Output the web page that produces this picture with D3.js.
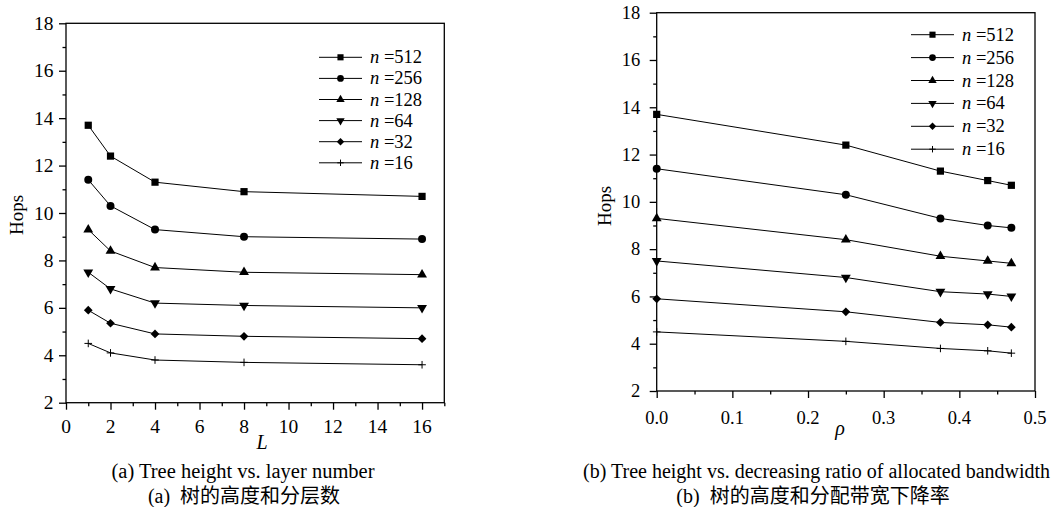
<!DOCTYPE html>
<html>
<head>
<meta charset="utf-8">
<script src="https://cdn.jsdelivr.net/npm/d3@7"></script>
<style>
  body { margin: 0; background: #fff; }
  svg { display: block; font-family: "Liberation Serif", "Noto Sans CJK SC", serif; }
  svg text { font-family: "Liberation Serif", "Noto Sans CJK SC", serif; }
</style>
</head>
<body>
<svg id="chart" width="1057" height="507"></svg>
<script>
// series labels (n) and values, same hops for both panels
const nLabels = ['512', '256', '128', '64', '32', '16'];
const layerL = [1, 2, 4, 8, 16];
const rhoVals = [0, 0.25, 0.375, 0.4375, 0.46875];

const hops512 = [13.7, 12.4, 11.3, 10.9, 10.7];
const hops256 = [11.4, 10.3, 9.3, 9.0, 8.9];
const hops128 = [9.3, 8.4, 7.7, 7.5, 7.4];
const hops64 = [7.5, 6.8, 6.2, 6.1, 6.0];
const hops32 = [5.9, 5.35, 4.9, 4.8, 4.7];
const hops16 = [4.5, 4.1, 3.8, 3.7, 3.6];
const hopsSeries = [hops512, hops256, hops128, hops64, hops32, hops16];

const yTicks = [2, 4, 6, 8, 10, 12, 14, 16, 18];
const yMinor = [3, 5, 7, 9, 11, 13, 15, 17];
const lTicks = [0, 2, 4, 6, 8, 10, 12, 14, 16];
const lMinor = [1, 3, 5, 7, 9, 11, 13, 15, 17];
const rhoTicks = [0, 0.1, 0.2, 0.3, 0.4, 0.5];
const rhoMinor = [0.05, 0.15, 0.25, 0.35, 0.45];

const captionA = ['(a) Tree height vs. layer number', '(a)  树的高度和分层数'];
const captionB = ['(b) Tree height vs. decreasing ratio of allocated bandwidth', '(b)  树的高度和分配带宽下降率'];

const svg = d3.select('#chart');
svg.append('rect').attr('width', 1057).attr('height', 507).attr('fill', '#fff');

const markerKinds = ['square', 'circle', 'up', 'down', 'diamond', 'plus'];

function marker(g, kind, x, y, s) {
    s = s || 1;
    if (kind === 'plus') {
        const r = 3.8 * s;
        g.append('path')
            .attr('d', `M${x - r},${y}H${x + r}M${x},${y - r}V${y + r}`)
            .attr('stroke', '#000').attr('stroke-width', 1).attr('fill', 'none');
        return;
    }
    let sym, size, rot = 0;
    if (kind === 'square') { sym = d3.symbolSquare; size = 52; }
    if (kind === 'circle') { sym = d3.symbolCircle; size = 50; }
    if (kind === 'up') { sym = d3.symbolTriangle; size = 42; }
    if (kind === 'down') { sym = d3.symbolTriangle; size = 42; rot = 180; }
    if (kind === 'diamond') { sym = d3.symbolSquare; size = 38; rot = 45; }
    g.append('path')
        .attr('d', d3.symbol(sym, size * s * s)())
        .attr('transform', `translate(${x},${y}) rotate(${rot})`)
        .attr('fill', '#000');
}

// tick marks only, labels drawn separately
function ticks(g, axis, tf, size) {
    const a = g.append('g').attr('transform', tf)
        .call(axis.tickSize(size).tickSizeOuter(0).tickFormat(''));
    a.select('.domain').remove();
    a.selectAll('line').attr('stroke-width', 1.3);
}

function drawPanel(p) {
    const x = d3.scaleLinear().domain(p.xDomain).range(p.xRange);
    const y = d3.scaleLinear().domain([2, 18]).range(p.yRange);
    const g = svg.append('g');

    const bottom = `translate(0,${p.yRange[0]})`;
    const left = `translate(${p.xRange[0]},0)`;
    ticks(g, d3.axisBottom(x).tickValues(p.xTicks), bottom, 7);
    ticks(g, d3.axisBottom(x).tickValues(p.xMinor), bottom, 3.5);
    ticks(g, d3.axisLeft(y).tickValues(yTicks), left, 7);
    ticks(g, d3.axisLeft(y).tickValues(yMinor), left, 3.5);

    g.append('g').selectAll('text').data(p.xTicks).join('text')
        .attr('x', d => x(d)).attr('y', p.yRange[0] + p.xLabelOff)
        .attr('text-anchor', 'middle').attr('font-size', p.fs)
        .text(p.xFormat);
    g.append('g').selectAll('text').data(yTicks).join('text')
        .attr('x', p.xRange[0] - p.yPad).attr('y', d => y(d)).attr('dy', '0.34em')
        .attr('text-anchor', 'end').attr('font-size', p.fs)
        .text(d => d);

    // frame
    g.append('rect')
        .attr('x', p.xRange[0]).attr('y', p.yRange[1])
        .attr('width', p.xRange[1] - p.xRange[0]).attr('height', p.yRange[0] - p.yRange[1])
        .attr('fill', 'none').attr('stroke', '#000').attr('stroke-width', 1.3);

    // axis titles
    g.append('text')
        .attr('transform', `translate(${p.hopsX},${p.hopsY}) rotate(-90)`)
        .attr('text-anchor', 'middle').attr('font-size', 19).text('Hops');
    g.append('text')
        .attr('x', p.xTitle[0]).attr('y', p.xTitle[1])
        .attr('text-anchor', 'middle').attr('font-size', 20).attr('font-style', 'italic')
        .text(p.xTitleText);

    // series
    const line = d3.line().x(d => x(d[0])).y(d => y(d[1]));
    hopsSeries.forEach((vals, i) => {
        const pts = p.xVals.map((v, j) => [v, vals[j]]);
        g.append('path').attr('d', line(pts))
            .attr('fill', 'none').attr('stroke', '#000').attr('stroke-width', 1);
        pts.forEach(d => marker(g, markerKinds[i], x(d[0]), y(d[1])));
    });

    // legend
    nLabels.forEach((n, i) => {
        const ly = p.leg.y0 + i * p.leg.dy;
        g.append('line').attr('x1', p.leg.x0).attr('x2', p.leg.x1)
            .attr('y1', ly).attr('y2', ly).attr('stroke', '#000').attr('stroke-width', 1);
        marker(g, markerKinds[i], (p.leg.x0 + p.leg.x1) / 2, ly, 0.85);
        const t = g.append('text').attr('x', p.leg.tx).attr('y', ly + 6).attr('font-size', 18.5);
        t.append('tspan').attr('font-style', 'italic').text('n');
        t.append('tspan').text(' =' + n);
    });

    // captions
    g.append('text').attr('x', p.cap1[0]).attr('y', p.cap1[1])
        .attr('text-anchor', p.cap1[2]).attr('font-size', p.cap1[3]).text(p.caption[0]);
    g.append('text').attr('x', p.cap2[0]).attr('y', p.cap2[1])
        .attr('text-anchor', 'middle').attr('font-size', 20)
        .style('white-space', 'pre').text(p.caption[1]);
}

drawPanel({
    xDomain: [0, 17], xRange: [66, 444.3], yRange: [402.7, 23.3],
    xTicks: lTicks, xMinor: lMinor, xFormat: d3.format('d'), xVals: layerL,
    xLabelOff: 30, yPad: 12.5, fs: 19.5,
    hopsX: 23, hopsY: 215, xTitle: [262, 449], xTitleText: 'L',
    leg: { x0: 319, x1: 362, tx: 370, y0: 57.3, dy: 21.1 },
    caption: captionA, cap1: [243, 478, 'middle', 20.5], cap2: [244, 503]
});

drawPanel({
    xDomain: [0, 0.5], xRange: [656.7, 1035], yRange: [391, 12.7],
    xTicks: rhoTicks, xMinor: rhoMinor, xFormat: d3.format('.1f'), xVals: rhoVals,
    xLabelOff: 33, yPad: 16.5, fs: 18.5,
    hopsX: 611, hopsY: 206, xTitle: [840, 435], xTitleText: 'ρ',
    leg: { x0: 911, x1: 954, tx: 962, y0: 34.7, dy: 22.9 },
    caption: captionB, cap1: [583, 478, 'start', 20], cap2: [813, 503]
});
</script>
</body>
</html>
